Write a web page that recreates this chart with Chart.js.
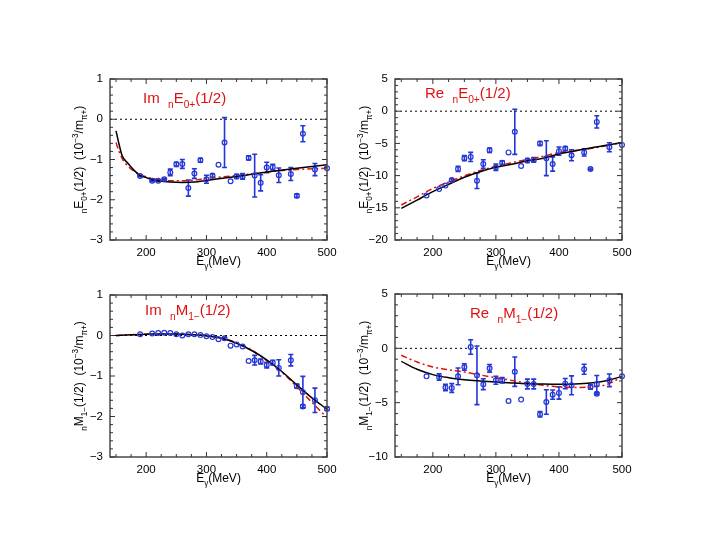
<!DOCTYPE html>
<html>
<head>
<meta charset="utf-8">
<script src="https://cdn.jsdelivr.net/npm/chart.js@4.4.1/dist/chart.umd.min.js"></script>
<style>
  html, body { margin: 0; padding: 0; background: #fff; }
  #wrap { position: relative; width: 705px; height: 545px; overflow: hidden; }
  canvas { position: absolute; }
</style>
</head>
<body>
<div id="wrap">
  <canvas id="imE0" width="345" height="230" style="left:0px;top:60px"></canvas>
  <canvas id="reE0" width="300" height="230" style="left:345px;top:60px"></canvas>
  <canvas id="imM1" width="345" height="231" style="left:0px;top:276px"></canvas>
  <canvas id="reM1" width="300" height="232" style="left:345px;top:275px"></canvas>
</div>
<script>
// photon energies of the data points (MeV)
const eEnergies = [190, 210, 220, 230, 240, 250, 260, 270, 280, 290, 300, 310, 320, 330, 340,
  350, 360, 370, 380, 390, 400, 410, 420, 440, 450, 460, 480, 500];
const mEnergies = [190, 210, 220, 230, 240, 250, 260, 270, 280, 290, 300, 310, 320, 330, 340,
  350, 360, 370, 380, 390, 400, 410, 420, 440, 450, 460, 460, 480, 500];

// Im nE0+
const imE0 = [-1.41, -1.53, -1.53, -1.49, -1.32, -1.12, -1.11, -1.71, -1.35, -1.02, -1.49, -1.40, -1.13, -0.58, -1.54,
  -1.42, -1.42, -0.96, -1.40, -1.58, -1.20, -1.19, -1.39, -1.36, -1.90, -0.36, -1.25, -1.22];
const imE0Err = [0.02, 0.02, 0.02, 0.02, 0.08, 0.05, 0.11, 0.20, 0.12, 0.05, 0.10, 0.04, 0, 0.62, 0,
  0.05, 0.07, 0.05, 0.53, 0.20, 0.13, 0.07, 0.18, 0.16, 0.04, 0.20, 0.15, 0];

// Re nE0+
const reE0 = [-13.1, -12.1, -11.55, -10.7, -8.96, -7.3, -7.1, -10.8, -8.2, -6.06, -8.7, -8.0, -6.4, -3.2, -8.5,
  -7.67, -7.56, -5.0, -7.3, -8.2, -6.2, -5.8, -6.84, -6.4, -8.96, -1.66, -5.6, -5.23];
const reE0Err = [0, 0, 0, 0.2, 0.4, 0.4, 0.7, 1.2, 0.65, 0.35, 0.5, 0.3, 0, 3.5, 0,
  0.3, 0.35, 0.3, 2.7, 1.1, 0.65, 0.3, 0.85, 0.55, 0.15, 0.95, 0.7, 0];

// Im nM1-
const imM1 = [0.03, 0.05, 0.06, 0.066, 0.06, 0.03, 0.0, 0.03, 0.03, 0.01, -0.02, -0.04, -0.09, -0.07, -0.25,
  -0.22, -0.27, -0.63, -0.61, -0.64, -0.73, -0.67, -0.80, -0.61, -1.25, -1.40, -1.75, -1.60, -1.81];
const imM1Err = [0, 0, 0, 0, 0, 0, 0, 0, 0, 0, 0, 0, 0, 0.03, 0,
  0, 0, 0, 0.12, 0.06, 0.07, 0.06, 0.2, 0.14, 0.05, 0.39, 0.04, 0.3, 0.04];

// Re nM1-
const reM1 = [-2.58, -2.64, -3.6, -3.65, -2.58, -1.72, 0.12, -2.48, -3.3, -1.84, -2.94, -2.94, -4.85, -2.15, -4.72,
  -3.28, -3.28, -6.07, -4.94, -4.26, -4.1, -3.25, -3.4, -1.93, -3.56, -3.3, -4.17, -2.94, -2.58];
const reM1Err = [0, 0.3, 0.3, 0.4, 0.77, 0.3, 0.67, 2.7, 0.5, 0.35, 0.37, 0.25, 0, 1.35, 0,
  0.45, 0.45, 0.25, 1.13, 0.43, 0.57, 0.47, 0.87, 0.46, 0.2, 0.8, 0.1, 0.58, 0];

// model curves (solid black / red dash-dot)
const curveEFine = [150, 155, 160, 170, 180, 190, 200, 210, 220, 240, 260, 280, 300, 350, 400, 450, 500];
const imE0Solid = [-0.29, -0.62, -0.9, -1.1, -1.27, -1.4, -1.45, -1.5, -1.53, -1.56, -1.57, -1.56, -1.52, -1.42, -1.31, -1.22, -1.13];
const imE0Dash = [-0.58, -0.8, -0.97, -1.17, -1.29, -1.37, -1.43, -1.47, -1.5, -1.53, -1.53, -1.51, -1.47, -1.4, -1.31, -1.25, -1.22];

const curveE = [150, 175, 200, 225, 250, 275, 300, 325, 350, 375, 400, 425, 450, 475, 500];
const reE0Solid = [-15.1, -13.8, -12.5, -11.35, -10.26, -9.4, -8.7, -8.24, -7.7, -7.3, -6.63, -6.17, -5.7, -5.3, -4.87];
const reE0Dash = [-14.56, -13.3, -12.0, -11.0, -10.05, -9.22, -8.55, -8.0, -7.5, -7.0, -6.42, -6.1, -5.8, -5.35, -4.87];
const imM1Solid = [0, 0.02, 0.03, 0.04, 0.04, 0.02, -0.01, -0.07, -0.19, -0.37, -0.6, -0.89, -1.22, -1.54, -1.82];
const imM1Dash = [0, 0.02, 0.03, 0.04, 0.04, 0.02, 0, -0.06, -0.18, -0.36, -0.62, -0.9, -1.27, -1.65, -2.03];
const reM1Solid = [-1.2, -1.93, -2.42, -2.7, -2.88, -3.0, -3.1, -3.18, -3.25, -3.29, -3.31, -3.28, -3.19, -2.98, -2.58];
const reM1Dash = [-0.64, -1.26, -1.72, -1.97, -2.18, -2.45, -2.7, -2.95, -3.19, -3.4, -3.56, -3.6, -3.56, -3.34, -2.64];

const xMajor = [200, 300, 400, 500];

const FONT = "'Liberation Sans', Arial, sans-serif";
const BLUE = '#2436d8';
const RED = '#e01010';

// draws text made of pieces: [text, ''|'sub'|'sup']
function drawRich(ctx, parts, x, y, size, align) {
  const small = size * 0.68;
  let w = 0;
  parts.forEach(([t, m]) => {
    ctx.font = `${m ? small : size}px ${FONT}`;
    w += ctx.measureText(t).width;
  });
  let cx = align === 'center' ? x - w / 2 : x;
  parts.forEach(([t, m]) => {
    ctx.font = `${m ? small : size}px ${FONT}`;
    const dy = m === 'sub' ? size * 0.32 : m === 'sup' ? -size * 0.45 : 0;
    ctx.fillText(t, cx, y + dy);
    cx += ctx.measureText(t).width;
  });
}

const panelDecor = {
  id: 'panelDecor',
  beforeDatasetsDraw(chart, args, opts) {
    const { ctx, chartArea: a, scales: { x, y } } = chart;
    ctx.save();
    // dotted zero line
    ctx.strokeStyle = '#000';
    ctx.lineWidth = 1;
    ctx.setLineDash([2, 3]);
    const y0 = y.getPixelForValue(0);
    ctx.beginPath();
    ctx.moveTo(a.left, y0);
    ctx.lineTo(a.right, y0);
    ctx.stroke();
    ctx.setLineDash([]);
    // error bars
    ctx.strokeStyle = BLUE;
    ctx.lineWidth = 1.6;
    opts.energies.forEach((e, i) => {
      const err = opts.errors[i];
      if (!err) return;
      const px = x.getPixelForValue(e);
      const top = y.getPixelForValue(opts.values[i] + err);
      const bot = y.getPixelForValue(opts.values[i] - err);
      ctx.beginPath();
      ctx.moveTo(px, top); ctx.lineTo(px, bot);
      ctx.moveTo(px - 2.5, top); ctx.lineTo(px + 2.5, top);
      ctx.moveTo(px - 2.5, bot); ctx.lineTo(px + 2.5, bot);
      ctx.stroke();
    });
    ctx.restore();
  },
  afterDraw(chart, args, opts) {
    const { ctx, chartArea: a, scales: { x, y } } = chart;
    ctx.save();
    // frame
    ctx.strokeStyle = '#4a4a4a';
    ctx.lineWidth = 1.5;
    ctx.strokeRect(a.left, a.top, a.right - a.left, a.bottom - a.top);
    // inward ticks on all four sides
    ctx.lineWidth = 1;
    ctx.strokeStyle = '#333';
    ctx.beginPath();
    for (let v = 150; v <= 500; v += 25) {
      const px = x.getPixelForValue(v);
      const len = v % 100 === 0 ? 5 : 3;
      ctx.moveTo(px, a.bottom); ctx.lineTo(px, a.bottom - len);
      ctx.moveTo(px, a.top); ctx.lineTo(px, a.top + len);
    }
    const n = Math.round((opts.yMax - opts.yMin) / opts.yMinor);
    for (let k = 0; k <= n; k++) {
      const v = opts.yMin + k * opts.yMinor;
      const py = y.getPixelForValue(v);
      const major = Math.abs(v / opts.yMajor - Math.round(v / opts.yMajor)) < 1e-6;
      const len = major ? 5 : 3;
      ctx.moveTo(a.left, py); ctx.lineTo(a.left + len, py);
      ctx.moveTo(a.right, py); ctx.lineTo(a.right - len, py);
    }
    ctx.stroke();

    // panel title
    ctx.fillStyle = RED;
    ctx.textBaseline = 'alphabetic';
    drawRich(ctx, opts.title, a.left + opts.titleDx, a.top + opts.titleDy, 15, 'left');

    // x axis title
    ctx.fillStyle = '#000';
    drawRich(ctx, [['E', ''], ['\u03b3', 'sub'], ['(MeV)', '']], (a.left + a.right) / 2, a.bottom + 25, 12, 'center');

    // y axis title, rotated
    ctx.translate(a.left - 27, (a.top + a.bottom) / 2);
    ctx.rotate(-Math.PI / 2);
    drawRich(ctx, opts.yTitle, 0, 0, 12, 'center');
    ctx.restore();
  }
};

function toPoints(xs, ys) {
  return xs.map((v, i) => ({ x: v, y: ys[i] }));
}

function createPanel(id, cfg) {
  const canvas = document.getElementById(id);
  const yAxisWidth = cfg.yAxisWidth;
  const xAxisHeight = 50;
  new Chart(canvas, {
    data: {
      datasets: [
        {
          type: 'scatter',
          data: toPoints(cfg.energies, cfg.values),
          pointStyle: 'circle',
          pointRadius: 2.4,
          borderColor: BLUE,
          backgroundColor: 'rgba(0,0,0,0)',
          borderWidth: 1.2,
          clip: 6
        },
        {
          type: 'line',
          data: toPoints(cfg.curveE, cfg.solid),
          borderColor: '#000',
          borderWidth: 1.5,
          pointRadius: 0,
          cubicInterpolationMode: 'monotone',
          fill: false
        },
        {
          type: 'line',
          data: toPoints(cfg.curveE, cfg.dash),
          borderColor: RED,
          borderWidth: 1.5,
          borderDash: [6, 3, 2, 3],
          pointRadius: 0,
          cubicInterpolationMode: 'monotone',
          fill: false
        }
      ]
    },
    options: {
      responsive: false,
      animation: false,
      devicePixelRatio: 1,
      layout: { padding: { top: 19, right: cfg.padRight, left: 0, bottom: 0 } },
      plugins: {
        legend: { display: false },
        tooltip: { enabled: false },
        panelDecor: {
          energies: cfg.energies,
          values: cfg.values,
          errors: cfg.errors,
          yMin: cfg.yMin,
          yMax: cfg.yMax,
          yMajor: cfg.yMajor,
          yMinor: cfg.yMinor,
          title: cfg.title,
          titleDx: cfg.titleDx,
          titleDy: cfg.titleDy,
          yTitle: cfg.yTitle
        }
      },
      scales: {
        x: {
          type: 'linear',
          min: 140,
          max: 500,
          grid: { display: false, drawTicks: false },
          border: { display: false },
          afterBuildTicks: (scale) => { scale.ticks = xMajor.map(v => ({ value: v })); },
          afterFit: (scale) => { scale.height = xAxisHeight; },
          ticks: { color: '#000', font: { family: FONT, size: 11.5 }, padding: 6, maxRotation: 0 }
        },
        y: {
          type: 'linear',
          min: cfg.yMin,
          max: cfg.yMax,
          grid: { display: false, drawTicks: false },
          border: { display: false },
          afterBuildTicks: (scale) => { scale.ticks = cfg.yTicks.map(v => ({ value: v })); },
          afterFit: (scale) => { scale.width = yAxisWidth; },
          ticks: {
            color: '#000',
            font: { family: FONT, size: 11.5 },
            padding: 7,
            callback: (v) => String(v).replace('-', '\u2212')
          }
        }
      }
    },
    plugins: [panelDecor]
  });
}

const eTitle = [['n', 'sub'], ['E', ''], ['0+', 'sub'], ['(1/2)  (10', ''], ['\u22123', 'sup'], ['/m', ''], ['\u03c0+', 'sub'], [')', '']];
const mTitle = [['n', 'sub'], ['M', ''], ['1\u2212', 'sub'], ['(1/2)  (10', ''], ['\u22123', 'sup'], ['/m', ''], ['\u03c0+', 'sub'], [')', '']];

createPanel('imE0', {
  energies: eEnergies, values: imE0, errors: imE0Err,
  curveE: curveEFine, solid: imE0Solid, dash: imE0Dash,
  yMin: -3, yMax: 1, yMajor: 1, yMinor: 0.2, yTicks: [-3, -2, -1, 0, 1],
  yAxisWidth: 110, padRight: 18,
  title: [['Im  ', ''], ['n', 'sub'], ['E', ''], ['0+', 'sub'], ['(1/2)', '']], titleDx: 33, titleDy: 24,
  yTitle: eTitle
});

createPanel('reE0', {
  energies: eEnergies, values: reE0, errors: reE0Err,
  curveE: curveE, solid: reE0Solid, dash: reE0Dash,
  yMin: -20, yMax: 5, yMajor: 5, yMinor: 1, yTicks: [-20, -15, -10, -5, 0, 5],
  yAxisWidth: 50, padRight: 23,
  title: [['Re  ', ''], ['n', 'sub'], ['E', ''], ['0+', 'sub'], ['(1/2)', '']], titleDx: 30, titleDy: 19,
  yTitle: eTitle
});

createPanel('imM1', {
  energies: mEnergies, values: imM1, errors: imM1Err,
  curveE: curveE, solid: imM1Solid, dash: imM1Dash,
  yMin: -3, yMax: 1, yMajor: 1, yMinor: 0.2, yTicks: [-3, -2, -1, 0, 1],
  yAxisWidth: 110, padRight: 18,
  title: [['Im  ', ''], ['n', 'sub'], ['M', ''], ['1\u2212', 'sub'], ['(1/2)', '']], titleDx: 35, titleDy: 20,
  yTitle: mTitle
});

createPanel('reM1', {
  energies: mEnergies, values: reM1, errors: reM1Err,
  curveE: curveE, solid: reM1Solid, dash: reM1Dash,
  yMin: -10, yMax: 5, yMajor: 5, yMinor: 1, yTicks: [-10, -5, 0, 5],
  yAxisWidth: 50, padRight: 23,
  title: [['Re  ', ''], ['n', 'sub'], ['M', ''], ['1\u2212', 'sub'], ['(1/2)', '']], titleDx: 75, titleDy: 24,
  yTitle: mTitle
});
</script>
</body>
</html>
